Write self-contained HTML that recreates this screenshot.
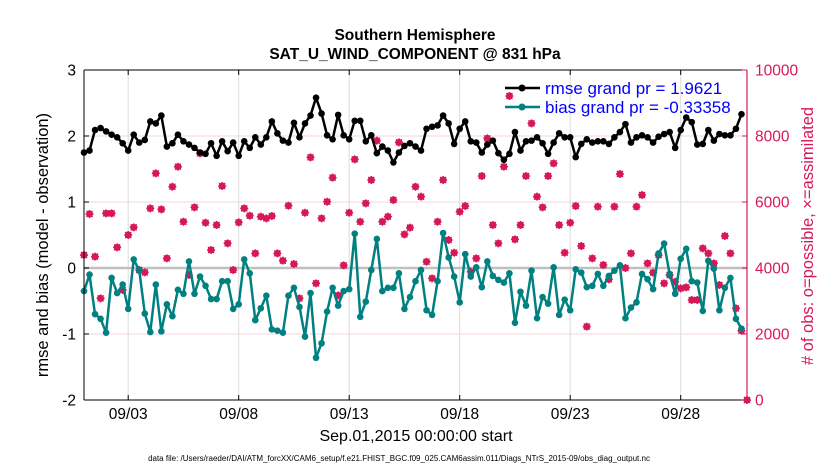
<!DOCTYPE html>
<html><head><meta charset="utf-8"><style>
body{margin:0;background:#fff;width:830px;height:470px;overflow:hidden}
svg{font-family:"Liberation Sans",sans-serif}
</style></head><body>
<svg id="chart" width="830" height="470" viewBox="0 0 830 470" xmlns="http://www.w3.org/2000/svg">
<text x="415" y="40" text-anchor="middle" font-size="15.5" font-weight="bold">Southern Hemisphere</text>
<text x="415" y="59" text-anchor="middle" font-size="15.5" font-weight="bold">SAT_U_WIND_COMPONENT @ 831 hPa</text>
<g id="grid"></g>
<g id="obs"></g>
<g id="lines"></g>
<g id="axes"></g>
<text transform="translate(48,245) rotate(-90)" text-anchor="middle" font-size="16.5">rmse and bias (model - observation)</text>
<text transform="translate(813,236) rotate(-90)" text-anchor="middle" font-size="16.5" fill="#d6185a"># of obs: o=possible, ×=assimilated</text>
<text x="416" y="441" text-anchor="middle" font-size="16">Sep.01,2015 00:00:00 start</text>
<text x="399" y="461" text-anchor="middle" font-size="8">data file: /Users/raeder/DAI/ATM_forcXX/CAM6_setup/f.e21.FHIST_BGC.f09_025.CAM6assim.011/Diags_NTrS_2015-09/obs_diag_output.nc</text>
<g>
<line x1="505" y1="88" x2="540" y2="88" stroke="#000" stroke-width="2.5"/><circle cx="522" cy="88" r="3.5" fill="#000"/>
<text x="545" y="94" font-size="17" fill="#0000ff">rmse grand pr = 1.9621</text>
<line x1="505" y1="107" x2="540" y2="107" stroke="#008080" stroke-width="2.5"/><circle cx="522" cy="107" r="3.5" fill="#008080"/>
<text x="545" y="113" font-size="17" fill="#0000ff">bias grand pr = -0.33358</text>
</g>
</svg>
<script>
const rmse=[1.75,1.78,2.09,2.12,2.07,2.02,1.98,1.89,1.78,2.02,1.90,1.94,2.22,2.19,2.31,1.84,1.89,2.02,1.92,1.87,1.82,1.75,1.73,1.89,1.70,1.92,1.77,1.90,1.70,1.92,1.82,
1.98,1.87,1.98,2.22,2.04,1.93,1.90,2.20,1.98,2.19,2.31,2.58,2.34,2.01,1.95,2.32,2.01,1.95,2.23,2.23,1.92,2.01,1.74,1.84,1.78,1.60,1.75,1.85,1.89,1.84,
1.78,2.11,2.14,2.16,2.31,2.19,1.88,2.11,2.22,1.92,1.90,1.75,1.87,1.93,1.74,1.64,1.73,2.06,1.78,1.92,1.93,1.98,1.89,1.73,1.90,2.04,1.98,1.98,1.68,
1.88,1.95,1.90,1.92,1.92,1.88,1.98,2.06,2.18,1.90,1.98,2.01,1.98,1.90,1.99,2.03,2.06,1.82,2.09,2.28,2.21,1.87,1.88,2.09,1.93,2.03,2.01,2.01,2.11,2.33];
const bias=[-0.35,-0.10,-0.70,-0.77,-0.98,-0.15,-0.38,-0.25,-0.62,0.13,-0.04,-0.69,-0.97,-0.25,-0.96,-0.55,-0.73,-0.33,-0.39,0.10,-0.39,-0.13,-0.27,-0.47,-0.47,-0.20,-0.20,-0.62,-0.55,0.13,-0.08,
-0.79,-0.61,-0.42,-0.93,-0.95,-0.98,-0.42,-0.30,-0.59,-1.04,-0.38,-1.36,-1.14,-0.66,-0.30,-0.57,-0.35,-0.32,0.52,-0.74,-0.51,-0.03,0.44,-0.35,-0.30,-0.30,-0.08,-0.62,-0.44,-0.20,
-0.03,-0.64,-0.71,-0.20,0.53,0.16,-0.13,-0.52,0.21,-0.13,0.01,-0.29,0.10,-0.12,-0.18,-0.22,-0.08,-0.83,-0.36,-0.57,-0.04,-0.76,-0.44,-0.54,0.01,-0.71,-0.48,-0.64,-0.02,
-0.07,-0.29,-0.27,-0.09,-0.27,-0.12,-0.04,0.04,-0.76,-0.60,-0.52,-0.09,-0.17,-0.32,0.22,0.37,-0.09,-0.39,0.14,0.29,-0.20,-0.22,-0.65,0.11,-0.01,-0.64,-0.30,-0.15,-0.77,-0.92];
const obsCount=[4394,5636,4343,3081,5656,5656,4626,3333,4999,5232,3939,3868,5807,6868,5777,4292,6464,7070,5403,3787,5838,7474,5373,4545,5302,6484,4747,3939,5383,5807,5585,
4443,5555,5505,5575,4443,4222,5888,4120,3081,5676,7353,3535,5505,6009,6737,3171,4080,5676,7292,5403,5959,6666,7858,5403,5555,6060,7807,5020,5222,6464,
6161,4191,3686,5403,6666,4848,4464,5706,5878,3888,4292,6787,7928,5302,4747,7070,9211,4868,5302,6787,8383,6161,5838,6787,7171,5302,4464,5373,5878,
4666,2222,4292,5858,4090,3656,5858,6848,3999,4443,5858,6211,4141,3858,4393,3535,3787,3585,3383,3414,3030,3030,4595,4443,4141,3484,4969,4443,2777,2100,0];
const leftTicks=[3,2,1,0,-1,-2];
const rightTicks=[10000,8000,6000,4000,2000,0];
const dateDays=[2,7,12,17,22,27];
const dateLabels=["09/03","09/08","09/13","09/18","09/23","09/28"];
const stepDays=0.25;

const X0=84,X1=747,Y0=70,Y1=400;
const xS=d=>X0+d/30*(X1-X0);
const yL=v=>Y1-(v+2)/5*(Y1-Y0);
const yR=v=>Y1-v/10000*(Y1-Y0);
const NS="http://www.w3.org/2000/svg";
function mk(tag,attrs,parent){const e=document.createElementNS(NS,tag);for(const k in attrs)e.setAttribute(k,attrs[k]);parent.appendChild(e);return e;}
const grid=document.getElementById('grid'),axes=document.getElementById('axes'),obs=document.getElementById('obs'),lines=document.getElementById('lines');
const MAG="#d6185a";
rightTicks.forEach(t=>{if(t>0&&t<10000&&t!==4000){const l=mk('line',{x1:X0,x2:X1,y1:yR(t),y2:yR(t),stroke:'#f0d6df','stroke-width':1},grid);

}});
dateDays.forEach(d=>{const l=mk('line',{x1:xS(d),x2:xS(d),y1:Y0,y2:Y1,stroke:'#dcdcdc','stroke-width':1},grid);

});
const z=mk('line',{x1:X0,x2:X1,y1:yL(0),y2:yL(0),stroke:'#c0c0c0','stroke-width':2.5},grid);


obsCount.forEach((c,i)=>{const cx=xS(i*stepDays),cy=yR(c);const g=mk('g',{stroke:MAG,'stroke-width':1.4,fill:'none'},obs);


mk('circle',{cx:cx,cy:cy,r:2.8,fill:MAG},g);
mk('path',{d:`M${cx-4} ${cy}H${cx+4}M${cx} ${cy-4}V${cy+4}M${cx-3} ${cy-3}L${cx+3} ${cy+3}M${cx-3} ${cy+3}L${cx+3} ${cy-3}`},g);});
function series(arr,color,name){const pts=arr.map((v,i)=>xS(i*stepDays).toFixed(1)+','+yL(v).toFixed(1)).join(' ');
const p=mk('polyline',{points:pts,fill:'none',stroke:color,'stroke-width':2.5,'stroke-linejoin':'round'},lines);


arr.forEach((v,i)=>{const c=mk('circle',{cx:xS(i*stepDays),cy:yL(v),r:3.3,fill:color},lines);

});}
series(bias,'#008080','bias');
series(rmse,'#000000','rmse');
mk('line',{x1:X0,x2:X1,y1:Y0,y2:Y0,stroke:'#000','stroke-width':1},axes);
mk('line',{x1:X0,x2:X1,y1:Y1,y2:Y1,stroke:'#000','stroke-width':1},axes);
mk('line',{x1:X0,x2:X0,y1:Y0,y2:Y1,stroke:'#000','stroke-width':1},axes);
mk('line',{x1:X1,x2:X1,y1:Y0,y2:Y1,stroke:MAG,'stroke-width':1.2},axes);
leftTicks.forEach(t=>{const y=yL(t);mk('line',{x1:X0,x2:X0+5,y1:y,y2:y,stroke:'#000'},axes);
const tx=mk('text',{x:X0-8,y:y+5.5,'text-anchor':'end','font-size':15.5},axes);tx.textContent=t;

});
rightTicks.forEach(t=>{const y=yR(t);mk('line',{x1:X1-5,x2:X1,y1:y,y2:y,stroke:MAG},axes);
const tx=mk('text',{x:X1+8,y:y+5.5,'font-size':15.5,fill:MAG},axes);tx.textContent=t;

});
dateDays.forEach((d,i)=>{const x=xS(d);mk('line',{x1:x,x2:x,y1:Y1-5,y2:Y1,stroke:'#000'},axes);mk('line',{x1:x,x2:x,y1:Y0,y2:Y0+5,stroke:'#000'},axes);
const tx=mk('text',{x:x,y:419,'text-anchor':'middle','font-size':15.5},axes);tx.textContent=dateLabels[i];

});
</script>
</body></html>
